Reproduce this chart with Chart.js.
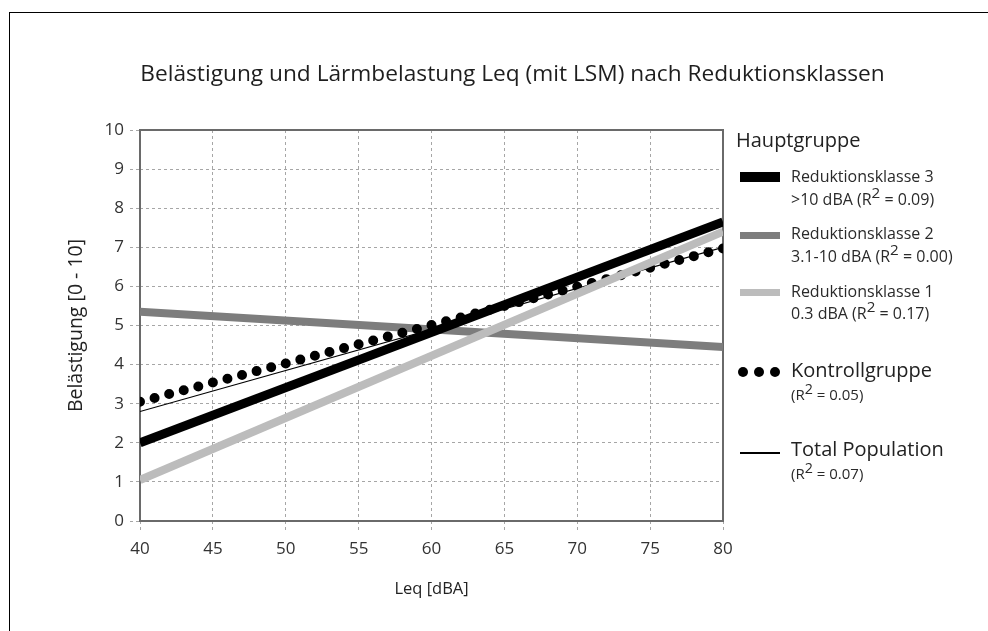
<!DOCTYPE html>
<html>
<head>
<meta charset="utf-8">
<script src="https://cdn.jsdelivr.net/npm/chart.js@4/dist/chart.umd.min.js"></script>
<style>
  html, body { margin: 0; padding: 0; background: #fff; }
  #wrap { position: relative; width: 988px; height: 631px; overflow: hidden;
          font-family: "Open Sans", "DejaVu Sans", sans-serif; color: #222; }
  #chart { position: absolute; left: 0; top: 0; }
  #frame { position: absolute; left: 9px; top: 12px; width: 1000px; height: 640px;
           border-top: 1px solid #000; border-left: 1px solid #000; }
  #title { position: absolute; left: 100px; width: 825px; top: 58px; text-align: center;
           font-size: 22.7px; line-height: 30px; white-space: nowrap; color: #1e1e1e; }
  .lg { position: absolute; white-space: nowrap; }
  .lg-head { font-size: 20px; line-height: 24px; }
  .lg-small { font-size: 16px; line-height: 18px; color: #2a2a2a; }
  .lg-big { font-size: 20px; line-height: 24px; }
  .lg-sub { font-size: 15px; line-height: 18px; color: #2a2a2a; }
  .lg sup { font-size: 0.95em; line-height: 0; vertical-align: 0.45em; }
  .sw { position: absolute; left: 740px; width: 40px; }
  .dot { position: absolute; width: 10px; height: 10px; border-radius: 50%; background: #000; }
</style>
</head>
<body>
<div id="wrap">
  <canvas id="chart" width="988" height="631"></canvas>
  <div id="frame"></div>
  <div id="title">Belästigung und Lärmbelastung Leq (mit LSM) nach Reduktionsklassen</div>
  <div id="legend"></div>
</div>
<script>
// Noise exposure Leq [dBA] at the ends of each regression line
const leq = [40, 80];

// Annoyance (0 - 10) fitted per group
const reduktion3 = [2.0, 7.65];
const reduktion2 = [5.35, 4.45];
const reduktion1 = [1.05, 7.4];
const kontrolle  = [3.05, 6.97];
const total      = [2.8, 7.0];

// Axis ticks
const xTicks = [40, 45, 50, 55, 60, 65, 70, 75, 80];
const yTicks = [0, 1, 2, 3, 4, 5, 6, 7, 8, 9, 10];

// Legend texts
const seriesNames  = ['Reduktionsklasse 3', 'Reduktionsklasse 2', 'Reduktionsklasse 1', 'Kontrollgruppe', 'Total Population'];
const seriesRanges = ['>10 dBA', '3.1-10 dBA', '0.3 dBA', '', ''];
const rSquared     = ['0.09', '0.00', '0.17', '0.05', '0.07'];

const toPoints = ys => leq.map((x, i) => ({ x: x, y: ys[i] }));

// Box around the plotting area
const plotFrame = {
  id: 'plotFrame',
  beforeDatasetsDraw(chart) {
    const { ctx, chartArea: { left, top, right, bottom } } = chart;
    ctx.save();
    ctx.strokeStyle = '#6a6a6a';
    ctx.lineWidth = 2;
    ctx.strokeRect(left, top, right - left, bottom - top);
    ctx.restore();
  }
};

const gridStyle = {
  color: '#a6a6a6',
  lineWidth: 1,
  tickLength: 10,
  tickBorderDash: [3, 3],
  tickColor: '#a6a6a6',
  drawTicks: true
};
const borderStyle = { display: false, dash: [3, 3] };

const tickFont = { family: '"Open Sans"', size: 17 };

new Chart(document.getElementById('chart'), {
  type: 'line',
  data: {
    datasets: [
      { label: seriesNames[0], data: toPoints(reduktion3), borderColor: '#000000', borderWidth: 9, order: 0 },
      { label: seriesNames[2], data: toPoints(reduktion1), borderColor: '#bcbcbc', borderWidth: 8, order: 1 },
      { label: seriesNames[3], data: toPoints(kontrolle), borderColor: '#000000', borderWidth: 10,
        borderDash: [0, 15.07], borderCapStyle: 'round', order: 2 },
      { label: seriesNames[4], data: toPoints(total), borderColor: '#000000', borderWidth: 1.2, order: 3 },
      { label: seriesNames[1], data: toPoints(reduktion2), borderColor: '#7d7d7d', borderWidth: 8, order: 4 }
    ]
  },
  options: {
    responsive: false,
    animation: false,
    devicePixelRatio: 1,
    layout: { padding: { left: 0, top: 130, right: 265, bottom: 0 } },
    elements: { point: { radius: 0, hoverRadius: 0 }, line: { tension: 0, borderCapStyle: 'butt' } },
    plugins: { legend: { display: false }, title: { display: false }, tooltip: { enabled: false } },
    scales: {
      x: {
        type: 'linear', min: 40, max: 80,
        afterBuildTicks: s => { s.ticks = xTicks.map(v => ({ value: v })); },
        afterFit: s => { s.height = 110; },
        grid: gridStyle,
        border: borderStyle,
        ticks: { color: '#333', font: tickFont, padding: 8, maxRotation: 0 },
        title: { display: true, text: 'Leq [dBA]', color: '#222',
                 font: { family: '"Open Sans"', size: 16.5 }, padding: { top: 0, bottom: 32 } }
      },
      y: {
        type: 'linear', min: 0, max: 10,
        afterBuildTicks: s => { s.ticks = yTicks.map(v => ({ value: v })); },
        afterFit: s => { s.width = 140; },
        grid: gridStyle,
        border: borderStyle,
        ticks: { color: '#333', font: tickFont, padding: 6 },
        title: { display: true, text: 'Belästigung [0 - 10]', color: '#222',
                 font: { family: '"Open Sans"', size: 19.5 }, padding: { top: 65, bottom: 0 } }
      }
    }
  },
  plugins: [plotFrame]
});

// Legend beside the plot
(function buildLegend() {
  const box = document.getElementById('legend');
  const add = (cls, left, centerY, html, lh) => {
    const d = document.createElement('div');
    d.className = 'lg ' + cls;
    d.style.left = left + 'px';
    d.style.top = (centerY - lh / 2) + 'px';
    d.innerHTML = html;
    box.appendChild(d);
  };
  const esc = s => s.replace(/&/g, '&amp;').replace(/</g, '&lt;').replace(/>/g, '&gt;');
  const r2 = v => '(R<sup>2</sup> = ' + v + ')';

  add('lg-head', 736, 140, 'Hauptgruppe', 24);

  // Band swatches for the three reduction classes
  const bands = [
    { color: '#000000', top: 172, h: 10, y1: 176, y2: 199 },
    { color: '#7d7d7d', top: 232, h: 7,  y1: 233, y2: 256 },
    { color: '#bcbcbc', top: 289, h: 7,  y1: 291, y2: 313 }
  ];
  bands.forEach((b, i) => {
    const sw = document.createElement('div');
    sw.className = 'sw';
    sw.style.top = b.top + 'px';
    sw.style.height = b.h + 'px';
    sw.style.background = b.color;
    box.appendChild(sw);
    add('lg-small', 791, b.y1, esc(seriesNames[i]), 18);
    add('lg-small', 791, b.y2, esc(seriesRanges[i]) + ' ' + r2(rSquared[i]), 18);
  });

  // Dotted swatch
  [743, 759, 775].forEach(cx => {
    const d = document.createElement('div');
    d.className = 'dot';
    d.style.left = (cx - 5) + 'px';
    d.style.top = (372 - 5) + 'px';
    box.appendChild(d);
  });
  add('lg-big', 791, 370, esc(seriesNames[3]), 24);
  add('lg-sub', 791, 394, r2(rSquared[3]), 18);

  // Thin line swatch
  const ln = document.createElement('div');
  ln.className = 'sw';
  ln.style.top = '452px';
  ln.style.height = '1.5px';
  ln.style.background = '#000';
  box.appendChild(ln);
  add('lg-big', 791, 449, esc(seriesNames[4]), 24);
  add('lg-sub', 791, 473, r2(rSquared[4]), 18);
})();
</script>
</body>
</html>
